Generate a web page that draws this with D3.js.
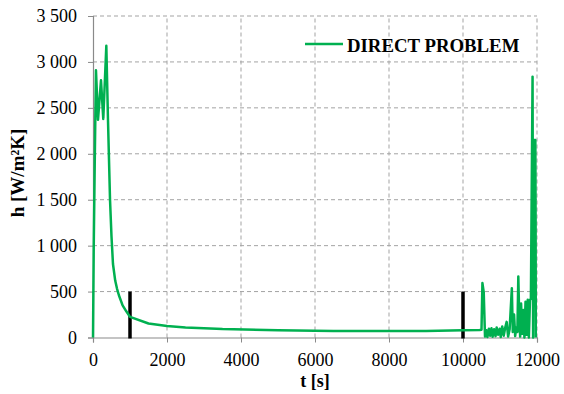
<!DOCTYPE html>
<html>
<head>
<meta charset="utf-8">
<script src="https://cdn.jsdelivr.net/npm/d3@7"></script>
<style>
  body { margin: 0; background: #fff; }
  svg text { font-family: "Liberation Serif", "Times New Roman", serif !important; fill: #000; }
</style>
</head>
<body>
<div id="chart"></div>
<script>
// time [s] and h [W/m2K]
const times = [0, 20, 50, 80, 135, 216, 278, 360, 405, 460, 500, 540, 600, 650, 700, 800, 900, 1000, 1500, 2000, 2500, 3500, 5000, 6500, 8000, 9000, 10000, 10450, 10500,
  10525, 10560, 10595, 10630, 10660, 10700, 10730, 10770, 10800, 10840, 10880, 10910, 10950, 10990, 11020, 11060, 11100, 11140, 11180, 11220, 11260,
  11320, 11345, 11380, 11410, 11440, 11470, 11495, 11520, 11545, 11570, 11600, 11630, 11660, 11690, 11720, 11750, 11780, 11810, 11835,
  11880, 11895, 11915, 11925, 11935, 11945, 11955, 11962, 11968];
const hValues = [0, 1000, 2000, 2910, 2370, 2800, 2380, 3175, 2370, 1500, 1100, 800, 620, 530, 460, 350, 285, 225, 152, 126, 110, 92, 79, 72, 70, 72, 78, 82, 85,
  592, 494, 10, 80, 5, 95, 20, 100, 8, 90, 15, 110, 30, 95, 5, 120, 20, 105, 170, 10, 90,
  535, 60, 250, 15, 110, 60, 665, 220, 10, 370, 40, 300, 0, 390, 30, 410, 0, 410, 420,
  2840, 0, 2150, 1330, 2150, 1330, 2150, 1300, 0];
const markerTimes = [1000, 10000];
const markerTop = 500;
const xTicks = [0, 2000, 4000, 6000, 8000, 10000, 12000];
const yTicks = [0, 500, 1000, 1500, 2000, 2500, 3000, 3500];
const seriesName = "DIRECT PROBLEM";

const W = 564, H = 394;
const margin = { left: 93, right: 27, top: 16, bottom: 56.5 };

const svg = d3.select("#chart").append("svg")
  .attr("width", W).attr("height", H);

const x = d3.scaleLinear().domain([0, 12000]).range([margin.left, W - margin.right]);
const y = d3.scaleLinear().domain([0, 3500]).range([H - margin.bottom, margin.top]);

// dashed grid
svg.append("g").selectAll("line").data(yTicks.filter(d => d > 0)).enter().append("line")
  .attr("x1", x(0)).attr("x2", x(12000))
  .attr("y1", d => y(d)).attr("y2", d => y(d))
  .attr("stroke", "#a3a3a3").attr("stroke-width", 1).attr("stroke-dasharray", "4,3");
svg.append("g").selectAll("line").data(xTicks.filter(d => d > 0)).enter().append("line")
  .attr("x1", d => x(d)).attr("x2", d => x(d))
  .attr("y1", y(0)).attr("y2", y(3500))
  .attr("stroke", "#a3a3a3").attr("stroke-width", 1).attr("stroke-dasharray", "4,3");

// axes
const yAxis = svg.append("g")
  .attr("transform", `translate(${x(0)},0)`)
  .call(d3.axisLeft(y).tickValues(yTicks).tickSize(5).tickPadding(11).tickFormat(d => d3.format(",")(d).replace(/,/g, " ")));
const xAxis = svg.append("g")
  .attr("transform", `translate(0,${y(0)})`)
  .call(d3.axisBottom(x).tickValues(xTicks).tickSize(5).tickPadding(11).tickFormat(d3.format("d")));
[xAxis, yAxis].forEach(a => {
  a.attr("font-family", null);
  a.select(".domain").attr("stroke", "#8a8a8a").attr("stroke-width", 1.2);
  a.selectAll(".tick line").attr("stroke", "#8a8a8a");
  a.selectAll("text").attr("font-size", 18).style("font-family", "'Liberation Serif', serif").attr("fill", "#000");
});

// black markers
svg.append("g").selectAll("line").data(markerTimes).enter().append("line")
  .attr("x1", d => x(d)).attr("x2", d => x(d))
  .attr("y1", y(0) + 1).attr("y2", y(markerTop))
  .attr("stroke", "#000").attr("stroke-width", 3.5);

// series
const pts = times.map((t, i) => [t, hValues[i]]);
svg.append("path").datum(pts)
  .attr("fill", "none").attr("stroke", "#00b050").attr("stroke-width", 2.5)
  .attr("stroke-linejoin", "round")
  .attr("d", d3.line().x(d => x(d[0])).y(d => y(d[1])));

// legend
svg.append("line").attr("x1", 305).attr("x2", 343).attr("y1", 44).attr("y2", 44)
  .attr("stroke", "#00b050").attr("stroke-width", 2.5);
svg.append("text").attr("x", 347).attr("y", 51.5)
  .attr("font-size", 18.8).attr("font-weight", "bold").text(seriesName);

// axis titles
svg.append("text").attr("x", 315).attr("y", 387).attr("text-anchor", "middle")
  .attr("font-size", 18).attr("font-weight", "bold").text("t [s]");
svg.append("text").attr("transform", "translate(24,173) rotate(-90)").attr("text-anchor", "middle")
  .attr("font-size", 19).attr("font-weight", "bold").text("h [W/m²K]");
</script>
</body>
</html>
